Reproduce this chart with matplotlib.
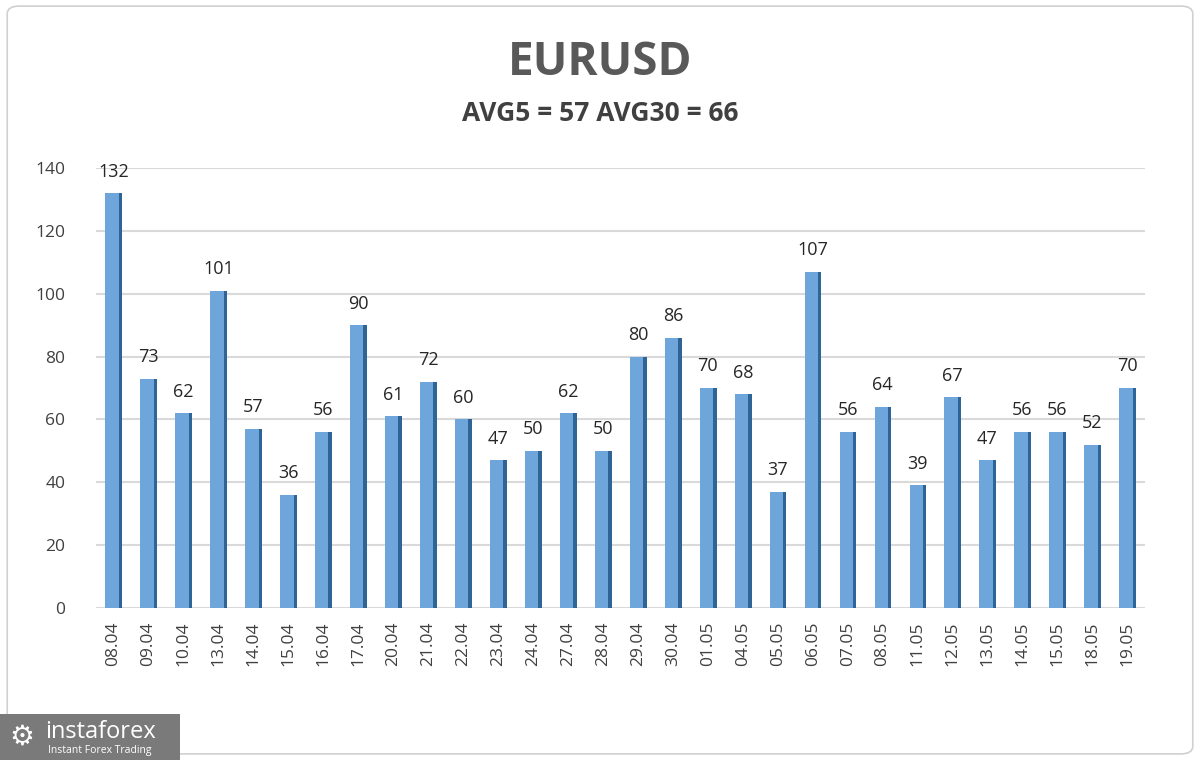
import matplotlib.pyplot as plt
from matplotlib.patches import FancyBboxPatch, Rectangle
import numpy as np

plt.rcParams['font.family'] = ['Open Sans', 'DejaVu Sans']

dates = ['08.04', '09.04', '10.04', '13.04', '14.04', '15.04', '16.04', '17.04',
         '20.04', '21.04', '22.04', '23.04', '24.04', '27.04', '28.04', '29.04',
         '30.04', '01.05', '04.05', '05.05', '06.05', '07.05', '08.05', '11.05',
         '12.05', '13.05', '14.05', '15.05', '18.05', '19.05']
values = [132, 73, 62, 101, 57, 36, 56, 90, 61, 72, 60, 47, 50, 62, 50, 80,
          86, 70, 68, 37, 107, 56, 64, 39, 67, 47, 56, 56, 52, 70]
yticks = [0, 20, 40, 60, 80, 100, 120, 140]

fig = plt.figure(figsize=(12, 7.6), dpi=100)
ax = fig.add_axes([0.08, 0.2, 0.874, 0.579])

x = np.arange(len(values))
ax.bar(x, values, width=0.46, color='#6ea6dc', zorder=3)
# darker side face for the 3D look
ax.bar(x + 0.2, values, width=0.1, color='#2f6496', zorder=4)

for xi, v in zip(x, values):
    ax.text(xi, v + 4, str(v), ha='center', va='bottom', fontsize=13, color='#262626')

ax.set_xlim(-0.5, len(values) - 0.5)
ax.set_ylim(0, 140)
ax.set_yticks(yticks)
ax.set_yticklabels([str(t) for t in yticks], fontsize=12.5, color='#404040')
ax.set_xticks(x)
ax.set_xticklabels(dates, rotation=90, fontsize=12.5, color='#404040')
ax.tick_params(length=0)
ax.tick_params(axis='y', pad=22)
ax.tick_params(axis='x', pad=10)
ax.grid(axis='y', color='#d9d9d9', linewidth=1.5, zorder=0)
for s in ax.spines.values():
    s.set_visible(False)

fig.text(0.5, 0.918, 'EURUSD', ha='center', va='center', fontsize=33,
         fontweight='bold', color='#595959')
fig.text(0.5, 0.851, 'AVG5 = 57 AVG30 = 66', ha='center', va='center',
         fontsize=19, fontweight='bold', color='#404040')

# light frame around the chart
fig.patches.append(FancyBboxPatch((0.006, 0.008), 0.988, 0.984,
                                  boxstyle='round,pad=0,rounding_size=0.01',
                                  transform=fig.transFigure, fill=False,
                                  edgecolor='#d0d0d0', linewidth=1.2))

# watermark logo
fig.patches.append(Rectangle((0, 0), 0.15, 0.06, transform=fig.transFigure,
                             facecolor='#7a7a7a', edgecolor='none'))
fig.text(0.038, 0.037, 'instaforex', fontsize=17, color='white', va='center')
fig.text(0.04, 0.012, 'Instant Forex Trading', fontsize=7.5, color='white', va='center')
fig.text(0.018, 0.03, '\u2699', fontsize=20, color='white', va='center', ha='center')

fig.savefig('out.png', dpi=100)
